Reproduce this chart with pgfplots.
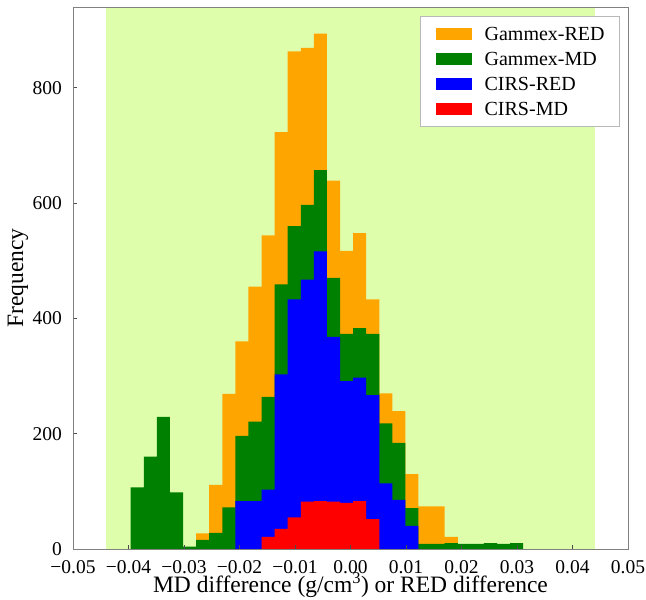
\documentclass[border=0pt]{standalone}
\usepackage{fontspec}
\setmainfont{Liberation Serif}
\usepackage{pgfplots}
\pgfplotsset{compat=1.18}
\definecolor{gOrange}{HTML}{FFA500}
\definecolor{gGreen}{HTML}{008000}
\definecolor{cBlue}{HTML}{0000FF}
\definecolor{cRed}{HTML}{FF0000}
\definecolor{bandGreen}{HTML}{DEFEAC}
\definecolor{frameGray}{HTML}{808080}

\begin{document}
\begin{tikzpicture}
\begin{axis}[
    scale only axis, width=555bp, height=542bp,
    xmin=-0.05, xmax=0.05, ymin=0, ymax=940,
    scaled x ticks=false, scaled y ticks=false,
    axis on top,
    axis line style={frameGray, line width=0.8bp},
    xtick={-0.05,-0.04,-0.03,-0.02,-0.01,0,0.01,0.02,0.03,0.04,0.05},
    xticklabels={−0.05,−0.04,−0.03,−0.02,−0.01,0.00,0.01,0.02,0.03,0.04,0.05},
    ytick={0,200,400,600,800},
    yticklabels={0,200,400,600,800},
    tick align=inside, xtick pos=bottom, ytick pos=left,
    major tick length=4bp,
    tick style={black!70, line width=0.8bp},
    ticklabel style={font=\fontsize{19.5bp}{22bp}\selectfont, inner sep=0pt},
    xticklabel style={yshift=-11bp},
    yticklabel style={xshift=-11bp},
    xlabel={MD difference (g/cm\textsuperscript{3}) or RED difference},
    ylabel={Frequency},
    label style={font=\fontsize{23.5bp}{28bp}\selectfont},
    xlabel style={at={(axis description cs:0.5,-0.0673)}, anchor=center},
    ylabel style={at={(axis description cs:-0.0991,0.5)}, anchor=center},
    legend image code/.code={\path[#1] (0bp,-6bp) rectangle (36bp,6bp);},
    legend cell align=left,
    legend style={
      at={(rel axis cs:0.9856,0.9834)}, anchor=north east,
      draw=gray!55, line width=0.8bp, fill=white,
      font=\fontsize{20bp}{24bp}\selectfont,
      inner xsep=15bp, inner ysep=11bp,
      row sep=11.9bp, column sep=13bp,
      nodes={inner sep=0pt, text depth=0bp, text height=13.2bp},
    },
]

% shaded band
\addplot[draw=none, fill=bandGreen, forget plot] coordinates {(-0.044,940) (0.044,940)} \closedcycle;

% Gammex-RED (visible top)
\addplot[ybar interval, fill=gOrange, draw=none, forget plot] coordinates {
  (-0.02782,27) (-0.02546,111) (-0.02310,269) (-0.02074,360) (-0.01839,455)
  (-0.01603,544) (-0.01367,723) (-0.01132,863) (-0.00896,869) (-0.00660,894)
  (-0.00425,639) (-0.00189,517) (0.00047,548) (0.00283,433) (0.00518,270)
  (0.00754,239) (0.00990,130) (0.01225,74) (0.01461,74) (0.01697,21) (0.01933,21)
};
% Gammex-MD
\addplot[ybar interval, fill=gGreen, draw=none, forget plot] coordinates {
  (-0.03960,107) (-0.03724,160) (-0.03489,229) (-0.03253,98) (-0.03017,4)
  (-0.02782,16) (-0.02546,28) (-0.02310,72) (-0.02074,196) (-0.01839,221)
  (-0.01603,264) (-0.01367,459) (-0.01132,560) (-0.00896,597) (-0.00660,657)
  (-0.00425,470) (-0.00189,373) (0.00047,383) (0.00283,373) (0.00518,218)
  (0.00754,184) (0.00990,71) (0.01225,9) (0.01461,9) (0.01697,10)
  (0.01933,9) (0.02168,9) (0.02404,10) (0.02640,9) (0.02875,10) (0.03111,10)
};
% CIRS-RED
\addplot[ybar interval, fill=cBlue, draw=none, forget plot] coordinates {
  (-0.02074,83) (-0.01839,83) (-0.01603,103) (-0.01367,303) (-0.01132,433)
  (-0.00896,467) (-0.00660,516) (-0.00425,368) (-0.00189,291) (0.00047,297)
  (0.00283,267) (0.00518,114) (0.00754,85) (0.00990,40) (0.01225,40)
};
% CIRS-MD
\addplot[ybar interval, fill=cRed, draw=none, forget plot] coordinates {
  (-0.01603,21) (-0.01367,35) (-0.01132,55) (-0.00896,82) (-0.00660,83)
  (-0.00425,82) (-0.00189,80) (0.00047,83) (0.00283,52) (0.00518,52)
};

\addlegendimage{fill=gOrange, draw=none}
\addlegendentry{Gammex-RED}
\addlegendimage{fill=gGreen, draw=none}
\addlegendentry{Gammex-MD}
\addlegendimage{fill=cBlue, draw=none}
\addlegendentry{CIRS-RED}
\addlegendimage{fill=cRed, draw=none}
\addlegendentry{CIRS-MD}

\coordinate (ll) at (rel axis cs:0,0);
\coordinate (ur) at (rel axis cs:1,1);
\end{axis}
\pgfresetboundingbox
\path ([shift={(-73bp,-51bp)}]ll) rectangle ([shift={(18bp,7bp)}]ur);
\end{tikzpicture}
\end{document}
